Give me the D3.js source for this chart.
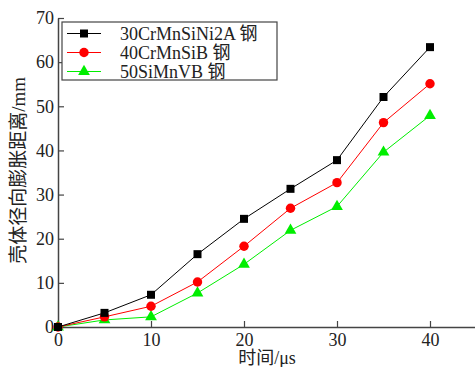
<!DOCTYPE html>
<html>
<head>
<meta charset="utf-8">
<script src="https://cdn.jsdelivr.net/npm/d3@7"></script>
<style>
body { margin: 0; background: #fff; }
text { font-family: "Liberation Serif", "Noto Sans CJK SC", serif; fill: #222; }
</style>
</head>
<body>
<div id="chart"></div>
<script>
var width = 475, height = 367;
var margin = {left: 58, right: 0, top: 18, bottom: 40};

// 时间 (μs)
var times = [0, 5, 10, 15, 20, 25, 30, 35, 40];
// 三种钢的膨胀距离 (mm)
var steelA = [0, 3.2, 7.3, 16.5, 24.5, 31.3, 37.8, 52.1, 63.4];
var steelB = [0, 2.3, 4.7, 10.2, 18.3, 26.9, 32.7, 46.3, 55.1];
var steelC = [0, 1.6, 2.3, 7.7, 14.2, 21.9, 27.3, 39.6, 47.9];
var names = ["30CrMnSiNi2A 钢", "40CrMnSiB 钢", "50SiMnVB 钢"];
var xTicks = [0, 10, 20, 30, 40];
var yTicks = [0, 10, 20, 30, 40, 50, 60, 70];

var series = [
  {name: names[0], values: steelA, color: "#000000", shape: d3.symbolSquare, size: 64},
  {name: names[1], values: steelB, color: "#ff0000", shape: d3.symbolCircle, size: 70},
  {name: names[2], values: steelC, color: "#00ee00", shape: d3.symbolTriangle, size: 60}
];

var svg = d3.select("#chart").append("svg")
    .attr("width", width).attr("height", height);

var xScale = d3.scaleLinear().domain([0, 45]).range([margin.left, margin.left + 45 * 9.3]);
var yScale = d3.scaleLinear().domain([0, 70]).range([height - margin.bottom, margin.top]);

// 坐标轴，刻度朝内
var xAxis = d3.axisBottom(xScale).tickValues(xTicks).tickSizeInner(-6).tickSizeOuter(0).tickPadding(6);
var yAxis = d3.axisLeft(yScale).tickValues(yTicks).tickSizeInner(-6).tickSizeOuter(0).tickPadding(4);

var gx = svg.append("g").attr("transform", "translate(0," + yScale(0) + ")").call(xAxis);
var gy = svg.append("g").attr("transform", "translate(" + margin.left + ",0)").call(yAxis);
[gx, gy].forEach(function(g) {
  g.select(".domain").attr("stroke", "#444").attr("stroke-width", 1.5);
  g.selectAll(".tick line").attr("stroke", "#444").attr("stroke-width", 1.2);
  g.selectAll(".tick text").style("font-size", "18px").style("font-family", "Liberation Serif").attr("fill", "#222");
});

// 轴标题
svg.append("text")
    .attr("x", 267).attr("y", 364)
    .attr("text-anchor", "middle")
    .style("font-size", "18px")
    .text("时间/μs");

svg.append("text")
    .attr("transform", "translate(25," + yScale(35.5) + ") rotate(-90)")
    .attr("text-anchor", "middle")
    .style("font-size", "19px")
    .text("壳体径向膨胀距离/mm");

//画折线和标记
var line = d3.line()
    .x(function(d, i) { return xScale(times[i]); })
    .y(function(d) { return yScale(d); });

series.slice().reverse().forEach(function(s) {
  svg.append("path").datum(s.values)
      .attr("d", line)
      .attr("fill", "none")
      .attr("stroke", s.color)
      .attr("stroke-width", 1);
  svg.append("g").selectAll("path").data(s.values).enter().append("path")
      .attr("transform", function(d, i) { return "translate(" + xScale(times[i]) + "," + yScale(d) + ")"; })
      .attr("d", d3.symbol().type(s.shape).size(s.size))
      .attr("fill", s.color);
});

// 图例
var legend = svg.append("g");
legend.append("rect")
    .attr("x", 62).attr("y", 22).attr("width", 215).attr("height", 58)
    .attr("fill", "#fff").attr("stroke", "#444").attr("stroke-width", 1.2);
series.forEach(function(s, i) {
  var yy = 33.5 + i * 19;
  legend.append("line")
      .attr("x1", 67).attr("x2", 101).attr("y1", yy).attr("y2", yy)
      .attr("stroke", s.color).attr("stroke-width", 1);
  legend.append("path")
      .attr("transform", "translate(84," + yy + ")")
      .attr("d", d3.symbol().type(s.shape).size(s.size))
      .attr("fill", s.color);
  legend.append("text")
      .attr("x", 120).attr("y", yy + 6)
      .style("font-size", "18px")
      .text(s.name);
});
</script>
</body>
</html>
